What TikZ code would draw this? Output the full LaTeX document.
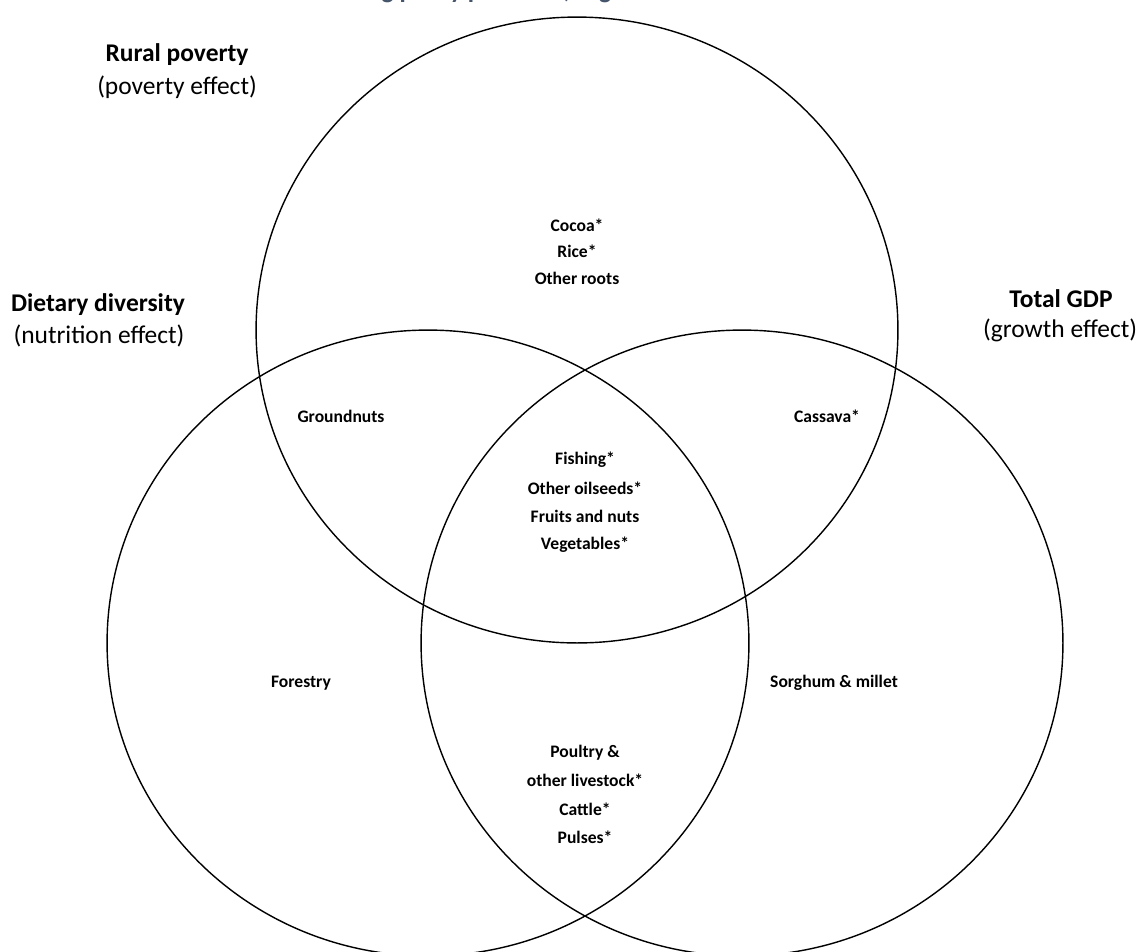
\documentclass[tikz,border=0pt]{standalone}
\usepackage{fontspec}
\setmainfont{Carlito}
\usetikzlibrary{shapes.geometric}
\definecolor{titleblue}{HTML}{44546A}
\begin{document}
\begin{tikzpicture}[x=0.02cm,y=-0.02cm,
  venn/.style={draw=black, line width=0.8pt, ellipse, inner sep=0pt, minimum width=12.84cm, minimum height=12.52cm},
  head/.style={font=\fontsize{14.5}{17}\selectfont\bfseries, inner sep=0pt},
  sub/.style={font=\fontsize{14.5}{17}\selectfont, inner sep=0pt},
  item/.style={font=\fontsize{10}{12}\selectfont\bfseries, inner sep=0pt}]
\useasboundingbox (0,0) rectangle (1141,951);
\node[font=\fontsize{14.5}{17}\selectfont\bfseries, text=titleblue, anchor=base east, inner sep=0pt] (title) at (652,-2) {Reconciling policy priorities, Nigeria};
\node[venn] (poverty) at (577,330) {};
\node[venn] (diet) at (428,643) {};
\node[venn] (gdp) at (742,643) {};
\node[head] (h1) at (177,55) {Rural poverty};
\node[sub] (s1) at (177,87) {(poverty effect)};
\node[head] (h2) at (98,305) {Dietary diversity};
\node[sub] (s2) at (99,336) {(nutrition effect)};
\node[head] (h3) at (1061,299) {Total GDP};
\node[sub] (s3) at (1060,330) {(growth effect)};
\node[item] (cocoa) at (577,225) {Cocoa*};
\node[item] (rice) at (577,251) {Rice*};
\node[item] (roots) at (577,278) {Other roots};
\node[item] (gnuts) at (341,416) {Groundnuts};
\node[item] (cassava) at (827,416) {Cassava*};
\node[item] (fish) at (585,460) {Fishing*};
\node[item] (oil) at (585,488) {Other oilseeds*};
\node[item] (fruit) at (585,516) {Fruits and nuts};
\node[item] (veg) at (585,545) {Vegetables*};
\node[item] (forest) at (301,683) {Forestry};
\node[item] (sorg) at (834,683) {Sorghum \& millet};
\node[item] (poul) at (585,753) {Poultry \&};
\node[item] (live) at (585,780) {other livestock*};
\node[item] (cattle) at (585,809) {Cattle*};
\node[item] (pulses) at (585,837) {Pulses*};
\end{tikzpicture}
\end{document}
